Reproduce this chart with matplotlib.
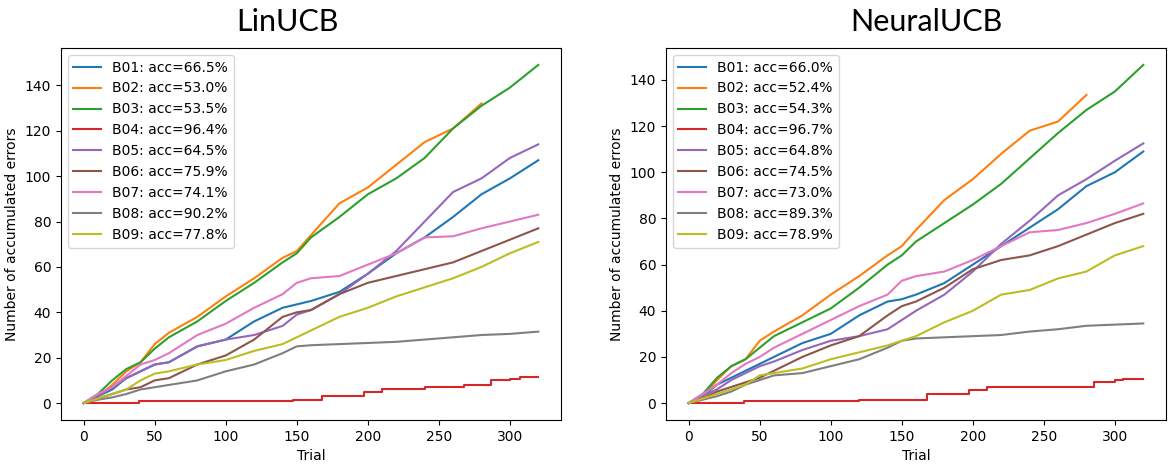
import numpy as np
import matplotlib
matplotlib.use('Agg')
import matplotlib.pyplot as plt

trials = [0, 10, 20, 30, 40, 50, 60, 80, 100, 120, 140, 150, 160, 180, 200, 220, 240, 260, 280, 300, 320]
names = ['B01', 'B02', 'B03', 'B04', 'B05', 'B06', 'B07', 'B08', 'B09']

# LinUCB
lin_acc = [66.5, 53.0, 53.5, 96.4, 64.5, 75.9, 74.1, 90.2, 77.8]
lin_b01 = [0, 3, 6, 11, 14, 17, 18, 25, 28, 36, 42, 43.5, 45, 49, 57, 66, 73, 82, 92, 99, 107]
lin_b02 = [0, 3, 8, 14, 18, 26, 31, 38, 47, 55, 64, 67, 74, 88, 95, 105, 115, 121, 132]
lin_b03 = [0, 4, 10, 15, 18, 24, 29, 36, 45, 53, 62, 66, 73, 82, 92, 99, 108, 121, 131, 139, 149]
lin_b05 = [0, 3, 7, 11, 14, 17, 18, 25, 28, 30, 34, 39, 41, 48, 57, 67, 80, 93, 99, 108, 114]
lin_b06 = [0, 2, 4, 6, 7, 10, 11, 17, 21, 28, 38, 40, 41, 48, 53, 56, 59, 62, 67, 72, 77]
lin_b07 = [0, 4, 7, 12, 17, 19, 22, 30, 35, 42, 48, 53, 55, 56, 61, 66, 73, 73.5, 77, 80, 83]
lin_b08 = [0, 1.5, 2.5, 4, 6, 7, 8, 10, 14, 17, 22, 25, 25.5, 26, 26.5, 27, 28, 29, 30, 30.5, 31.5]
lin_b09 = [0, 2, 4, 6, 10, 13, 14, 17, 19, 23, 26, 29, 32, 38, 42, 47, 51, 55, 60, 66, 71]
lin_b04_x = [0, 39, 147, 168, 197, 210, 240, 268, 287, 300, 307, 320]
lin_b04_y = [0, 1, 1.3, 3, 5, 6, 7, 8, 10, 10.5, 11.5, 11.5]

# NeuralUCB
neu_acc = [66.0, 52.4, 54.3, 96.7, 64.8, 74.5, 73.0, 89.3, 78.9]
neu_b01 = [0, 3, 8, 11, 14, 17, 20, 26, 30, 38, 44, 45, 47, 52, 60, 68, 76, 84, 94, 100, 109]
neu_b02 = [0, 3, 10, 16, 19, 27, 31, 38, 47, 55, 64, 68, 75, 88, 97, 108, 118, 122, 133.5]
neu_b03 = [0, 4, 11, 16, 19, 24, 29, 35, 41, 50, 60, 64, 70, 78, 86, 95, 106, 117, 127, 135, 146.5]
neu_b05 = [0, 3, 6, 10, 13, 16, 18, 23, 27, 29, 32, 36, 40, 47, 57, 69, 79, 90, 97, 105, 112.5]
neu_b06 = [0, 2, 5, 7, 9, 11, 14, 20, 25, 29, 38, 42, 44, 50, 58, 62, 64, 68, 73, 78, 82]
neu_b07 = [0, 4, 8, 13, 17, 20, 24, 30, 36, 42, 47, 53, 55, 57, 62, 68, 74, 75, 78, 82, 86.5]
neu_b08 = [0, 1.5, 3, 5, 8, 10, 12, 13, 16, 19, 24, 27, 28, 28.5, 29, 29.5, 31, 32, 33.5, 34, 34.5]
neu_b09 = [0, 2, 4, 6, 8, 12, 13, 15, 19, 22, 25, 27, 29, 35, 40, 47, 49, 54, 57, 64, 68]
neu_b04_x = [0, 39, 120, 168, 197, 210, 285, 300, 306, 320]
neu_b04_y = [0, 1, 1.5, 3.8, 5.6, 6.8, 9, 10, 10.5, 10.5]


def draw_panel(ax, acc, series, b04_x, b04_y):
    for i, name in enumerate(names):
        label = '%s: acc=%.1f%%' % (name, acc[i])
        if name == 'B04':
            ax.plot(b04_x, b04_y, drawstyle='steps-post', color='C3', label=label)
        else:
            vals = series[name]
            ax.plot(trials[:len(vals)], vals, color='C%d' % i, label=label)
    ax.set_xlabel('Trial', fontsize=10)
    ax.set_ylabel('Number of accumulated errors', fontsize=10)
    ax.set_xticks([0, 50, 100, 150, 200, 250, 300])
    ax.set_yticks(np.arange(0, 141, 20))
    ax.tick_params(labelsize=10)
    ax.legend(loc='upper left', fontsize=10)


def main():
    fig = plt.figure(figsize=(11.7, 4.67), dpi=100)
    ax1 = fig.add_axes([0.0521, 0.1006, 0.4274, 0.7966])
    ax2 = fig.add_axes([0.5692, 0.1006, 0.4274, 0.7966])

    lin = {'B01': lin_b01, 'B02': lin_b02, 'B03': lin_b03, 'B05': lin_b05, 'B06': lin_b06,
           'B07': lin_b07, 'B08': lin_b08, 'B09': lin_b09}
    neu = {'B01': neu_b01, 'B02': neu_b02, 'B03': neu_b03, 'B05': neu_b05, 'B06': neu_b06,
           'B07': neu_b07, 'B08': neu_b08, 'B09': neu_b09}

    draw_panel(ax1, lin_acc, lin, lin_b04_x, lin_b04_y)
    draw_panel(ax2, neu_acc, neu, neu_b04_x, neu_b04_y)

    # titles sit a little off the axes centres in the original
    fig.text(287 / 1170, 1 - 31 / 467, 'LinUCB', ha='center', va='baseline',
             fontsize=22, family=['Lato', 'DejaVu Sans'])
    fig.text(926 / 1170, 1 - 31 / 467, 'NeuralUCB', ha='center', va='baseline',
             fontsize=22, family=['Lato', 'DejaVu Sans'])

    fig.savefig('out.png', dpi=100)


if __name__ == "__main__":
    main()
